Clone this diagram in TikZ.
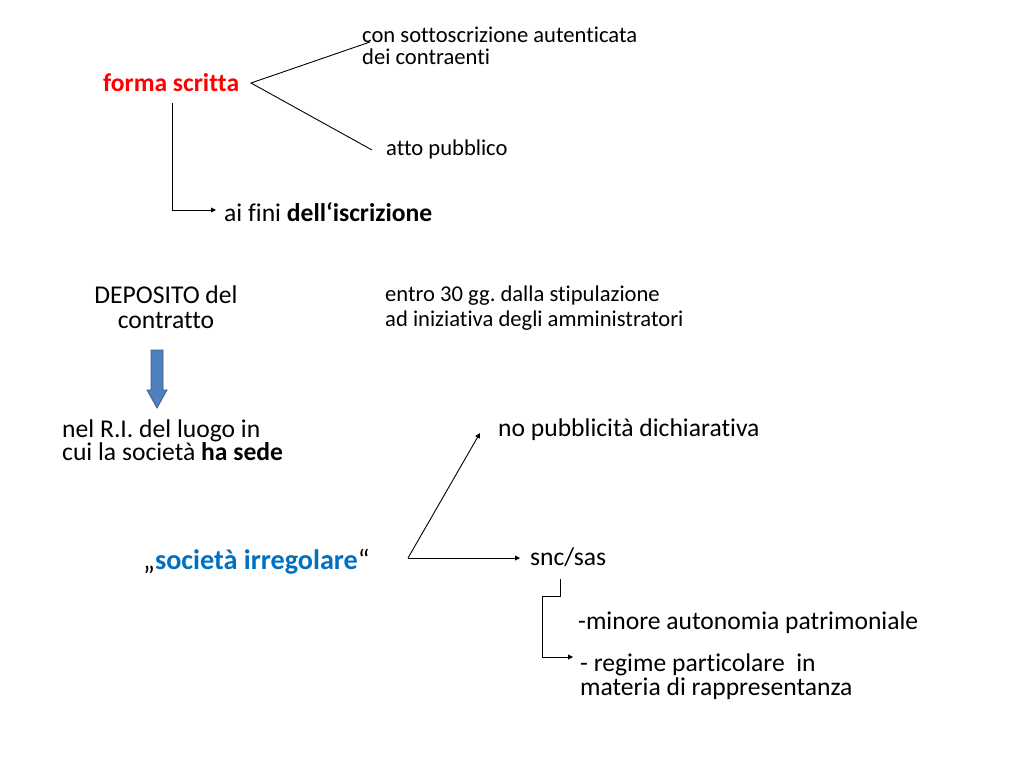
\documentclass[tikz,border=0pt]{standalone}
\usepackage{fontspec}
\setmainfont{Carlito}[Ligatures=NoCommon]
\usetikzlibrary{arrows.meta}
\frenchspacing
\definecolor{fred}{RGB}{255,0,0}
\definecolor{sblue}{RGB}{0,112,192}
\definecolor{afill}{RGB}{79,129,189}
\definecolor{aedge}{RGB}{56,93,138}
\tikzset{
  txt/.style={inner sep=0pt, anchor=west, align=left, font=\fontsize{22.6}{22}\selectfont},
  txtl/.style={inner sep=0pt, anchor=west, align=left, font=\fontsize{25.6}{22}\selectfont},
  conn/.style={line width=0.9pt, black},
  arr/.style={conn, -{Triangle[length=5pt,width=5pt]}},
}
\begin{document}
\begin{tikzpicture}[x=1pt,y=-1pt]
\useasboundingbox (0,0) rectangle (1024,768);
% top part
\node[txtl, font=\fontsize{25.6}{24}\selectfont\bfseries, text=fred] (fs) at (103,83) {forma scritta};
\node[txt] (con) at (362,46) {con sottoscrizione autenticata\\dei contraenti};
\node[txt] (atto) at (386,149) {atto pubblico};
\node[txtl] (fini) at (224,212) {ai fini \textbf{dell‘iscrizione}};
\coordinate (v) at (251,83);
\coordinate (c1) at (370,42);
\coordinate (c2) at (372,150);
\draw[conn] (c1) -- (v) -- (c2);
\coordinate (d0) at (172,103);
\coordinate (d1) at (172,210);
\coordinate (d2) at (216,210);
\draw[arr] (d0) -- (d1) -- (d2);
% deposito
\node[inner sep=0pt, align=center, font=\fontsize{25.6}{25}\selectfont] (dep) at (166,307.5) {DEPOSITO del\\contratto};
\node[txt, font=\fontsize{22.6}{25}\selectfont] (entro) at (385,308.5) {entro 30 gg. dalla stipulazione\\ad iniziativa degli amministratori};
\draw[fill=afill, draw=aedge, line width=0.8pt] (151,350) -- (163,350) -- (163,390) -- (167,390) -- (157,408) -- (147,390) -- (151,390) -- cycle;
\node[txtl, font=\fontsize{25.6}{21.5}\selectfont] (nel) at (62,440.5) {nel R.I. del luogo in\\cui la società \textbf{ha sede}};
\node[txtl] (nopub) at (498,430) {no pubblicità dichiarativa};
\node[txtl, font=\fontsize{28.2}{24}\selectfont] (soc) at (143,562) {„\textcolor{sblue}{\textbf{società irregolare}}“};
\node[txtl] (snc) at (530,557) {snc/sas};
\coordinate (s0) at (408,558);
\coordinate (s1) at (480,433);
\coordinate (s2) at (520,558);
\draw[arr] (s0) -- (s1);
\draw[arr] (s0) -- (s2);
\node[txtl] (min) at (578,623) {-minore autonomia patrimoniale};
\node[txtl, font=\fontsize{25.6}{24}\selectfont] (reg) at (580,677) {- regime particolare~ in\\materia di rappresentanza};
\coordinate (b0) at (560,579);
\coordinate (b1) at (560,596);
\coordinate (b2) at (542,596);
\coordinate (b3) at (542,657);
\coordinate (b4) at (573,657);
\draw[arr] (b0) -- (b1) -- (b2) -- (b3) -- (b4);
\end{tikzpicture}
\end{document}
